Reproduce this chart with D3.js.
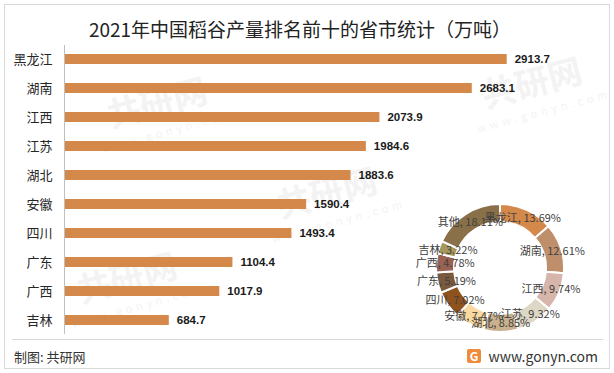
<!DOCTYPE html>
<meta charset="utf-8">
<style>
body { margin: 0; background: #fff; }
svg text { font-family: "Noto Sans CJK SC", "Noto Sans", sans-serif; }
.val { font-family: "Liberation Sans", Arial, sans-serif !important; font-weight: bold; font-size: 11.5px; fill: #1a1a1a; }
.cat { font-size: 13px; fill: #262626; }
.pie-label { font-size: 11px; fill: #404040; }
</style>
<script src="https://cdn.jsdelivr.net/npm/d3@7"></script>
<div id="chart"></div>
<script>

// bar chart data
var provinces = ["黑龙江", "湖南", "江西", "江苏", "湖北", "安徽", "四川", "广东", "广西", "吉林"];
var output = [2913.7, 2683.1, 2073.9, 1984.6, 1883.6, 1590.4, 1493.4, 1104.4, 1017.9, 684.7];

// donut data
var shareNames = ["黑龙江", "湖南", "江西", "江苏", "湖北", "安徽", "四川", "广东", "广西", "吉林", "其他"];
var sharePct = [13.69, 12.61, 9.74, 9.32, 8.85, 7.47, 7.02, 5.19, 4.78, 3.22, 18.11];
var shareColors = ["#D4894A", "#BF8E6B", "#D6B6AA", "#DDD7C6", "#C9B18D", "#F9D99F",
                   "#8E521F", "#7A5A3E", "#9A6252", "#A6975D", "#8A7049"];

var W = 614, H = 373;

var svg = d3.select("#chart")
  .append("svg")
    .attr("width", W)
    .attr("height", H);

// faint watermarks
var wm = svg.append("g").attr("fill", "#f3f3f3");
[[160, 115], [330, 205], [535, 95], [130, 290]].forEach(function(p) {
  wm.append("text")
    .attr("transform", "translate(" + p[0] + "," + p[1] + ") rotate(-15)")
    .attr("text-anchor", "middle")
    .style("font-size", "34px")
    .style("font-weight", "bold")
    .text("共研网");
  wm.append("text")
    .attr("transform", "translate(" + (p[0] + 10) + "," + (p[1] + 20) + ") rotate(-15)")
    .attr("text-anchor", "middle")
    .style("font-size", "11px")
    .style("letter-spacing", "4px")
    .text("www.gonyn.com");
});

// frame
svg.append("rect")
  .attr("x", 4.5).attr("y", 4.5)
  .attr("width", 605).attr("height", 364)
  .attr("fill", "none")
  .attr("stroke", "#d9d9d9");

// title
svg.append("text")
  .attr("x", 300)
  .attr("y", 37)
  .attr("text-anchor", "middle")
  .style("font-size", "19px")
  .style("fill", "#222")
  .text("2021年中国稻谷产量排名前十的省市统计（万吨）");

// scales
var x = d3.scaleLinear()
  .domain([0, 3000])
  .range([65, 65 + 454.8]);

var y = d3.scaleBand()
  .domain(provinces)
  .range([44.5, 334.5])
  .paddingInner(0.655)
  .paddingOuter(0.3275);

// bars
svg.selectAll("rect.bar")
  .data(provinces)
  .enter()
  .append("rect")
    .attr("class", "bar")
    .attr("x", x(0))
    .attr("y", function(d) { return y(d); })
    .attr("width", function(d, i) { return x(output[i]) - x(0); })
    .attr("height", y.bandwidth())
    .attr("fill", "#D4894A");

// value labels
svg.selectAll("text.val")
  .data(provinces)
  .enter()
  .append("text")
    .attr("class", "val")
    .attr("x", function(d, i) { return x(output[i]) + 8; })
    .attr("y", function(d) { return y(d) + y.bandwidth() / 2; })
    .attr("dy", "0.36em")
    .text(function(d, i) { return output[i].toFixed(1); });

// category axis
var yAxis = svg.append("g")
  .attr("transform", "translate(64.5,0)")
  .call(d3.axisLeft(y).tickSize(0).tickPadding(12));
yAxis.select(".domain").attr("stroke", "#bfbfbf").attr("d", "M0,45V334");
yAxis.selectAll("text").attr("class", "cat").attr("dy", "0.36em").style("font-family", null);

// donut
var pie = d3.pie().sort(null).value(function(d) { return d; });
var arcs = pie(sharePct);
var rOut = 64, rIn = 46;
var arc = d3.arc().innerRadius(rIn).outerRadius(rOut);
var labelArc = d3.arc().innerRadius((rIn + rOut) / 2).outerRadius((rIn + rOut) / 2);
var color = d3.scaleOrdinal().domain(shareNames).range(shareColors);

var donut = svg.append("g").attr("transform", "translate(500,268)");
donut.selectAll("path")
  .data(arcs)
  .enter()
  .append("path")
    .attr("d", arc)
    .attr("fill", function(d, i) { return color(shareNames[i]); })
    .attr("stroke", "#fff")
    .attr("stroke-width", 2);

donut.selectAll("text")
  .data(arcs)
  .enter()
  .append("text")
    .attr("class", "pie-label")
    .attr("transform", function(d) { return "translate(" + labelArc.centroid(d) + ")"; })
    .attr("text-anchor", "middle")
    .attr("dy", "0.35em")
    .text(function(d, i) { return shareNames[i] + ", " + sharePct[i].toFixed(2) + "%"; });

// footer
svg.append("line")
  .attr("x1", 12).attr("x2", 603)
  .attr("y1", 339.5).attr("y2", 339.5)
  .attr("stroke", "#d9d9d9");

svg.append("text")
  .attr("x", 14)
  .attr("y", 362)
  .style("font-size", "13px")
  .style("fill", "#333")
  .text("制图: 共研网");

var logo = svg.append("g").attr("transform", "translate(467,349)");
logo.append("rect")
  .attr("width", 14).attr("height", 14).attr("rx", 2)
  .attr("fill", "#F08A3C");
logo.append("text")
  .attr("x", 7).attr("y", 11.5)
  .attr("text-anchor", "middle")
  .style("font-size", "12px")
  .style("font-weight", "bold")
  .style("fill", "#fff")
  .text("G");

svg.append("text")
  .attr("x", 598)
  .attr("y", 362)
  .attr("text-anchor", "end")
  .style("font-size", "14px")
  .style("fill", "#333")
  .text("www.gonyn.com");

</script>
